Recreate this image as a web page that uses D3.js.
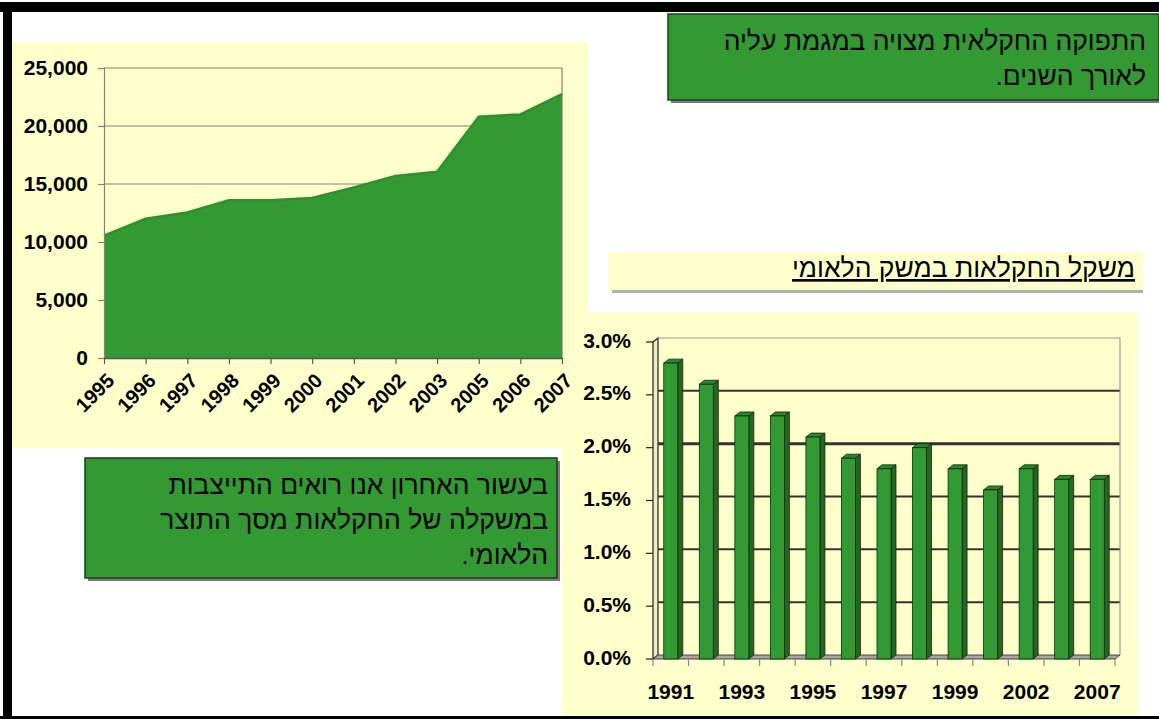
<!DOCTYPE html>
<html>
<head>
<meta charset="utf-8">
<script src="https://cdn.jsdelivr.net/npm/d3@7"></script>
<style>
  body { margin: 0; background: #fff; }
  svg { display: block; }
  text { font-family: "Liberation Sans", Arial, "DejaVu Sans", sans-serif; }
</style>
</head>
<body>
<svg id="slide"></svg>
<script>
// agricultural output, by year
const outputYears = ["1995", "1996", "1997", "1998", "1999", "2000", "2001", "2002", "2003", "2005", "2006", "2007"];
const outputValues = [10550, 12000, 12550, 13600, 13600, 13800, 14700, 15700, 16050, 20800, 21000, 22750];
const outputTicks = [0, 5000, 10000, 15000, 20000, 25000];

// agriculture share of national product
const shareYears = ["1991", "1992", "1993", "1994", "1995", "1996", "1997", "1998", "1999", "2000", "2002", "2005", "2007"];
const shareValues = [2.8, 2.6, 2.3, 2.3, 2.1, 1.9, 1.8, 2.0, 1.8, 1.6, 1.8, 1.7, 1.7];
const shareTicks = [0, 0.5, 1.0, 1.5, 2.0, 2.5, 3.0];
const shareLabels = ["1991", "1993", "1995", "1997", "1999", "2002", "2007"];

const topNote = ["התפוקה החקלאית מצויה במגמת עליה", "לאורך השנים."];
const shareTitle = "משקל החקלאות במשק הלאומי";
const shareNote = ["בעשור האחרון אנו רואים התייצבות", "במשקלה של החקלאות מסך התוצר", "הלאומי."];

const green = "#339933";
const cream = "#ffffcc";
const labelFont = "'Liberation Sans', Arial, sans-serif";

const svg = d3.select("#slide")
    .attr("width", 1159)
    .attr("height", 719);

// panels
svg.append("rect").attr("x", 12).attr("y", 42).attr("width", 576).attr("height", 406).attr("fill", cream);
svg.append("rect").attr("x", 562).attr("y", 312).attr("width", 576).attr("height", 404).attr("fill", cream);

// ---------- area chart ----------
const ax = d3.scalePoint().domain(outputYears).range([104, 562]);
const ay = d3.scaleLinear().domain([0, 25000]).range([358, 68]);

const areaG = svg.append("g");

areaG.selectAll(".grid")
    .data(outputTicks.filter(d => d > 0))
    .enter()
    .append("line")
    .attr("x1", 104).attr("x2", 562)
    .attr("y1", d => ay(d)).attr("y2", d => ay(d))
    .attr("stroke", "#808080").attr("stroke-width", 1.2);

areaG.append("line")
    .attr("x1", 562).attr("x2", 562).attr("y1", ay(25000)).attr("y2", ay(0))
    .attr("stroke", "#808080").attr("stroke-width", 1.2);

const area = d3.area()
    .x((d, i) => ax(outputYears[i]))
    .y0(ay(0))
    .y1(d => ay(d));
areaG.append("path").datum(outputValues).attr("d", area).attr("fill", green);

const topLine = d3.line()
    .x((d, i) => ax(outputYears[i]))
    .y(d => ay(d));
areaG.append("path").datum(outputValues).attr("d", topLine)
    .attr("fill", "none").attr("stroke", "#2f8f2f").attr("stroke-width", 2.5);

const yAxisA = areaG.append("g")
    .attr("transform", "translate(104,0)")
    .call(d3.axisLeft(ay).tickValues(outputTicks).tickSize(6).tickPadding(10).tickFormat(d3.format(",")));
yAxisA.select(".domain").attr("stroke", "#808080").attr("stroke-width", 1.2);
yAxisA.selectAll(".tick line").attr("stroke", "#808080").attr("stroke-width", 1.2);
yAxisA.selectAll("text")
    .attr("font-size", 21).attr("font-weight", "bold").attr("fill", "#000")
    .style("font-family", labelFont);

const xAxisA = areaG.append("g")
    .attr("transform", "translate(0,358)")
    .call(d3.axisBottom(ax).tickSize(6).tickSizeOuter(0));
xAxisA.select(".domain").attr("stroke", "#555").attr("stroke-width", 1.5);
xAxisA.selectAll(".tick line").attr("stroke", "#555").attr("stroke-width", 1.2);
xAxisA.selectAll("text")
    .attr("font-size", 20).attr("font-weight", "bold").attr("fill", "#000")
    .style("font-family", labelFont)
    .attr("text-anchor", "end")
    .attr("dy", 0)
    .attr("y", 0)
    .attr("transform", "translate(11,24) rotate(-45)");

// ---------- 3D bar chart ----------
const bx = d3.scaleBand().domain(shareYears).range([653, 1115]);
const by = d3.scaleLinear().domain([0, 3]).range([655, 338]);
const dx = 5, dy = 4, barW = 14;

const barG = svg.append("g");

// left wall
barG.append("polygon")
    .attr("points", [[653, by(3) + dy], [658, by(3)], [658, by(0)], [653, by(0) + dy]].join(" "))
    .attr("fill", "#efefc4").attr("stroke", "#222").attr("stroke-width", 1.2);

// floor
barG.append("polygon")
    .attr("points", [[653, by(0) + dy], [658, by(0)], [1120, by(0)], [1115, by(0) + dy]].join(" "))
    .attr("fill", "#a6a6a6").attr("stroke", "#444").attr("stroke-width", 1);

// back wall grid
barG.selectAll(".grid")
    .data(shareTicks.filter(d => d > 0))
    .enter()
    .append("line")
    .attr("x1", 658).attr("x2", 1120)
    .attr("y1", d => by(d)).attr("y2", d => by(d))
    .attr("stroke", d => d === 3 ? "#9a9a9a" : "#333")
    .attr("stroke-width", d => d === 3 ? 1.2 : (d === 2 ? 3 : 2));

barG.append("line")
    .attr("x1", 1120).attr("x2", 1120).attr("y1", by(3)).attr("y2", by(0))
    .attr("stroke", "#9a9a9a").attr("stroke-width", 1.2);

// y ticks and labels
barG.selectAll(".ytick")
    .data(shareTicks)
    .enter()
    .append("line")
    .attr("x1", 646).attr("x2", 653)
    .attr("y1", d => by(d) + dy).attr("y2", d => by(d) + dy)
    .attr("stroke", "#222").attr("stroke-width", 1.2);

barG.selectAll(".ylabel")
    .data(shareTicks)
    .enter()
    .append("text")
    .attr("x", 631)
    .attr("y", d => by(d) + 2)
    .attr("dy", "0.36em")
    .attr("text-anchor", "end")
    .attr("font-size", 21).attr("font-weight", "bold")
    .text(d => d3.format(".1f")(d) + "%");

// x ticks below floor
barG.selectAll(".xtick")
    .data(shareYears.concat(["end"]))
    .enter()
    .append("line")
    .attr("x1", (d, i) => 653 + i * bx.step()).attr("x2", (d, i) => 653 + i * bx.step())
    .attr("y1", by(0) + dy).attr("y2", by(0) + dy + 7)
    .attr("stroke", "#888").attr("stroke-width", 1.2);

barG.selectAll(".xlabel")
    .data(shareYears.filter(d => shareLabels.includes(d)))
    .enter()
    .append("text")
    .attr("x", d => bx(d) + bx.bandwidth() / 2)
    .attr("y", 699)
    .attr("text-anchor", "middle")
    .attr("font-size", 21).attr("font-weight", "bold")
    .text(d => d);

// bars
const bars = barG.selectAll(".bar")
    .data(shareYears.map((d, i) => ({ year: d, value: shareValues[i] })))
    .enter()
    .append("g");

bars.append("polygon")
    .attr("points", d => {
        const x0 = bx(d.year) + (bx.bandwidth() - barW) / 2 + barW, yT = by(d.value) + dy, yB = by(0) + dy;
        return [[x0, yT], [x0 + dx, yT - dy], [x0 + dx, yB - dy], [x0, yB]].join(" ");
    })
    .attr("fill", "#1f6a1f").attr("stroke", "#102a10").attr("stroke-width", 0.8);

bars.append("polygon")
    .attr("points", d => {
        const x0 = bx(d.year) + (bx.bandwidth() - barW) / 2, yT = by(d.value) + dy;
        return [[x0, yT], [x0 + dx, yT - dy], [x0 + barW + dx, yT - dy], [x0 + barW, yT]].join(" ");
    })
    .attr("fill", "#2a862a").attr("stroke", "#102a10").attr("stroke-width", 0.8);

bars.append("rect")
    .attr("x", d => bx(d.year) + (bx.bandwidth() - barW) / 2)
    .attr("y", d => by(d.value) + dy)
    .attr("width", barW)
    .attr("height", d => by(0) - by(d.value))
    .attr("fill", green).attr("stroke", "#102a10").attr("stroke-width", 0.8);

// ---------- text boxes ----------
function noteBox(x, y, w, h, lines, right, firstBase, step) {
    svg.append("rect").attr("x", x + 3).attr("y", y + 3).attr("width", w).attr("height", h).attr("fill", "#7a7a7a");
    svg.append("rect").attr("x", x).attr("y", y).attr("width", w).attr("height", h)
        .attr("fill", green).attr("stroke", "#1b3d1b").attr("stroke-width", 1.5);
    svg.selectAll(null)
        .data(lines)
        .enter()
        .append("text")
        .attr("x", right)
        .attr("y", (d, i) => firstBase + i * step)
        .attr("direction", "rtl")
        .attr("text-anchor", "start")
        .attr("font-size", 26.5)
        .attr("fill", "#000")
        .text(d => d);
}

noteBox(668, 14, 491, 86, topNote, 1146, 50, 35);
noteBox(85, 458, 472, 120, shareNote, 548, 494, 35);

// caption of the bar chart
svg.append("rect").attr("x", 612).attr("y", 289).attr("width", 531).attr("height", 4).attr("fill", "#b0b0b0");
svg.append("rect").attr("x", 609).attr("y", 252).attr("width", 534).attr("height", 38).attr("fill", cream);
svg.append("text")
    .attr("x", 1135).attr("y", 277)
    .attr("direction", "rtl")
    .attr("text-anchor", "start")
    .attr("font-size", 26.5)
    .attr("text-decoration", "underline")
    .attr("fill", "#000")
    .text(shareTitle);

// slide frame
svg.append("rect").attr("x", 0).attr("y", 2).attr("width", 1159).attr("height", 10).attr("fill", "#000");
svg.append("rect").attr("x", 3).attr("y", 2).attr("width", 9).attr("height", 715).attr("fill", "#000");
svg.append("rect").attr("x", 0).attr("y", 716).attr("width", 1159).attr("height", 3).attr("fill", "#000");
</script>
</body>
</html>
